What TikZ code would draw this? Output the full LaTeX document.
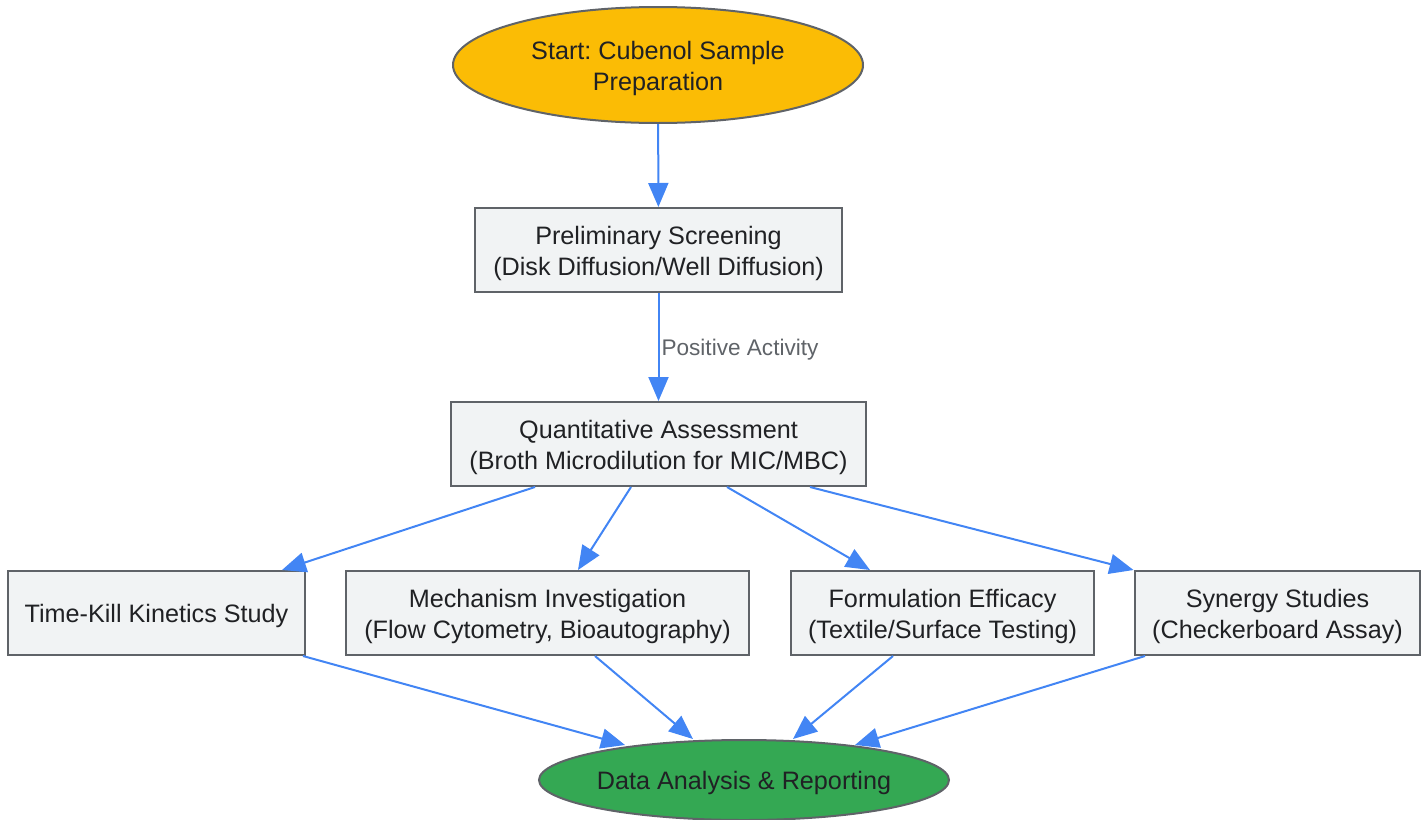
\documentclass[tikz,border=0pt]{standalone}
\usepackage{fontspec}
\setmainfont{Liberation Sans}
\usetikzlibrary{shapes.geometric,arrows.meta,calc}
\definecolor{gyellow}{HTML}{FBBC05}
\definecolor{ggreen}{HTML}{34A853}
\definecolor{gblue}{HTML}{4285F4}
\definecolor{boxfill}{HTML}{F1F3F4}
\definecolor{boxline}{HTML}{5F6368}
\definecolor{txt}{HTML}{202124}
\frenchspacing
\newcommand{\toplift}{\rule[-0pt]{0pt}{12.2pt}}
\tikzset{
  base/.style={draw=boxline, line width=1pt, text=txt, align=center,
    font=\fontsize{12.6}{15.5}\selectfont, inner sep=0pt},
  procbox/.style={base, rectangle, fill=boxfill, minimum height=42pt},
  startell/.style={base, ellipse, fill=gyellow, inner xsep=-30pt},
  endell/.style={base, ellipse, fill=ggreen, inner xsep=-30pt},
  conn/.style={draw=gblue, line width=1pt, -{Triangle[length=12pt,width=10pt]}},
  elabel/.style={text=boxline, font=\fontsize{11.3}{13}\selectfont, inner sep=0pt, anchor=west}
}
\begin{document}
\begin{tikzpicture}[x=0.5pt,y=-0.5pt]
\useasboundingbox (0,0) rectangle (1428,819);
\node[startell, minimum width=205pt, minimum height=58pt] (s) at (658,65) {\toplift Start: Cubenol Sample\\Preparation\rule[-2.5pt]{0pt}{1pt}};
\node[procbox, minimum width=183.5pt] (p) at (658.5,250) {\toplift Preliminary Screening\\(Disk Diffusion/Well Diffusion)};
\node[procbox, minimum width=207.5pt] (q) at (658.5,444) {\toplift Quantitative Assessment\\(Broth Microdilution for MIC/MBC)};
\node[procbox, minimum width=148.5pt] (t) at (156.5,613) {\toplift Time-Kill Kinetics Study};
\node[procbox, minimum width=201.5pt] (m) at (547.5,613) {\toplift Mechanism Investigation\\(Flow Cytometry, Bioautography)};
\node[procbox, minimum width=151.5pt] (f) at (942.5,613) {\toplift Formulation Efficacy\\(Textile/Surface Testing)};
\node[procbox, minimum width=142.5pt] (y) at (1277.5,613) {\toplift Synergy Studies\\(Checkerboard Assay)};
\node[endell, minimum width=205pt, minimum height=40pt] (d) at (744,780) {\toplift Data Analysis \& Reporting};

\draw[conn] (s) -- (p);
\draw[conn] (p) -- (q) node[elabel, pos=0.5, xshift=1pt, yshift=-1.5pt] {Positive Activity};
\draw[conn] ($(q.south)+(-123.5,0)$) -- ($(t.north)+(125.5,0)$);
\draw[conn] ($(q.south)+(-27.5,0)$) -- ($(m.north)+(30.5,0)$);
\draw[conn] ($(q.south)+(68.5,0)$) -- ($(f.north)+(-72.5,0)$);
\draw[conn] ($(q.south)+(151.5,0)$) -- ($(y.north)+(-144,0)$);
\draw[conn] ($(t.south)+(146.5,0)$) -- ($(d.center)+(-119,-35)$);
\draw[conn] ($(m.south)+(47.5,0)$) -- ($(d.center)+(-51,-41)$);
\draw[conn] ($(f.south)+(-49.5,0)$) -- ($(d.center)+(49,-41)$);
\draw[conn] ($(y.south)+(-132.5,0)$) -- ($(d.center)+(111,-35)$);
\end{tikzpicture}
\end{document}
